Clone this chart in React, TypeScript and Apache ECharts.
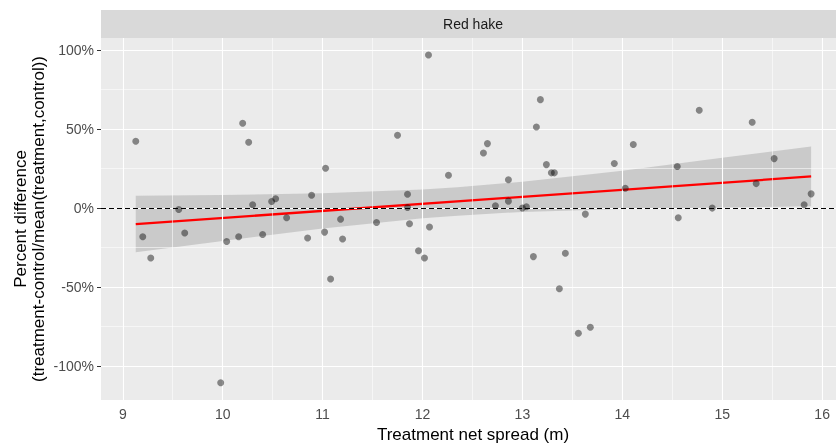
import React, { useEffect, useRef } from "react";
import * as echarts from "echarts";

const xValues = [
  9.13, 9.2, 9.28, 9.56, 9.62, 9.98, 10.04, 10.16, 10.2, 10.26, 10.3, 10.4, 10.49, 10.53, 10.64,
  10.85, 10.89, 11.02, 11.03, 11.08, 11.18, 11.2, 11.54, 11.75, 11.85, 11.85, 11.87, 11.96, 12.02,
  12.06, 12.07, 12.26, 12.61, 12.65, 12.73, 12.86, 12.86, 13.0, 13.04, 13.11, 13.14, 13.18, 13.24,
  13.29, 13.32, 13.37, 13.43, 13.56, 13.63, 13.68, 13.92, 14.03, 14.11, 14.55, 14.56, 14.77, 14.9,
  15.3, 15.34, 15.52, 15.82, 15.89,
];
const yValues = [
  42.3, -18.1, -31.6, -0.9, -15.8, -110.5, -21.1, -18.1, 53.7, 41.7, 2.1, -16.7, 4.2, 5.9, -6.1,
  -18.9, 8.1, -15.2, 25.2, -44.8, -7.0, -19.6, -9.1, 46.1, 8.8, 0.4, -9.9, -27.0, -31.6,
  96.8, -12.0, 20.8, 34.9, 40.8, 1.5, 17.9, 4.4, 0.0, 0.8, -30.7, 51.3, 68.6, 27.5,
  22.3, 22.3, -51.0, -28.6, -79.2, -3.8, -75.4, 28.2, 12.6, 40.2, 26.3, -6.1, 61.9, 0.0,
  54.3, 15.5, 31.3, 2.1, 9.0,
];

const bandX = [9.13, 10, 11, 12, 12.35, 13, 14, 15, 15.89];
const bandUpper = [7.8, 8.3, 9.4, 11.8, 13.2, 16.7, 23.6, 31.8, 38.9];
const bandLower = [-28.0, -20.8, -12.9, -6.5, -4.8, -2.4, -0.5, 0.3, 1.1];

const fitX = [9.13, 15.89];
const fitY = [-10.1, 20.0];

const xTicks = [9, 10, 11, 12, 13, 14, 15, 16];
const xMinor = [9.5, 10.5, 11.5, 12.5, 13.5, 14.5, 15.5];
const yTicks = [-100, -50, 0, 50, 100];
const yMinor = [-75, -25, 25, 75];

const stripTitle = "Red hake";
const xTitle = "Treatment net spread (m)";
const yTitle = "Percent difference\n(treatment-control/mean(treatment,control))";

const FONT = "'Liberation Sans', Arial, sans-serif";

export default function App() {
  const ref = useRef<HTMLDivElement>(null);
  useEffect(() => {
    if (!ref.current) return;
    const chart = echarts.init(ref.current, null, { renderer: "svg" });
    const gridLines: any[] = [];
    xTicks.forEach((v) => gridLines.push({ xAxis: v, lineStyle: { color: "#ffffff", width: 1.1, type: "solid" } }));
    xMinor.forEach((v) => gridLines.push({ xAxis: v, lineStyle: { color: "#ffffff", width: 0.55, type: "solid" } }));
    yTicks.forEach((v) => gridLines.push({ yAxis: v, lineStyle: { color: "#ffffff", width: 1.1, type: "solid" } }));
    yMinor.forEach((v) => gridLines.push({ yAxis: v, lineStyle: { color: "#ffffff", width: 0.55, type: "solid" } }));

    const option: any = {
      animation: false,
      textStyle: { fontFamily: FONT },
      grid: {
        left: 101,
        right: 5,
        top: 38,
        bottom: 44,
        show: true,
        backgroundColor: "#EBEBEB",
        borderWidth: 0,
      },
      xAxis: {
        type: "value",
        min: 8.782,
        max: 16.229,
        splitLine: { show: false },
        axisLine: { show: false },
        axisTick: { show: true, length: 4, lineStyle: { color: "#333333", width: 1 }, customValues: xTicks },
        axisLabel: { customValues: xTicks, color: "#4D4D4D", fontSize: 14, margin: 7, fontFamily: FONT },
      },
      yAxis: {
        type: "value",
        min: -121.4,
        max: 107.6,
        splitLine: { show: false },
        axisLine: { show: false },
        axisTick: { show: true, length: 4, lineStyle: { color: "#333333", width: 1 }, customValues: yTicks },
        axisLabel: {
          customValues: yTicks,
          color: "#4D4D4D",
          fontSize: 14,
          margin: 7,
          fontFamily: FONT,
          formatter: (v: number) => `${v}%`,
        },
      },
      graphic: [
        { type: "rect", shape: { x: 101, y: 10, width: 744, height: 28 }, style: { fill: "#D9D9D9" }, silent: true },
        {
          type: "text",
          x: 473,
          y: 24,
          style: { text: stripTitle, align: "center", verticalAlign: "middle", fill: "#1A1A1A", font: `14px ${FONT}` },
        },
        {
          type: "text",
          x: 473,
          y: 434,
          style: { text: xTitle, align: "center", verticalAlign: "middle", fill: "#000000", font: `17px ${FONT}` },
        },
        {
          type: "text",
          x: 29,
          y: 219,
          rotation: Math.PI / 2,
          style: {
            text: yTitle,
            align: "center",
            verticalAlign: "middle",
            fill: "#000000",
            font: `17px ${FONT}`,
            lineHeight: 18,
          },
        },
      ],
      series: [
        {
          name: "grid",
          type: "line",
          data: [],
          z: 1,
          silent: true,
          markLine: { silent: true, symbol: "none", label: { show: false }, animation: false, data: gridLines },
        },
        {
          name: "band",
          type: "custom",
          z: 2,
          silent: true,
          data: [[12, 0]],
          renderItem: (_params: any, api: any) => {
            const pts: number[][] = [];
            bandX.forEach((x, i) => pts.push(api.coord([x, bandUpper[i]])));
            for (let i = bandX.length - 1; i >= 0; i--) pts.push(api.coord([bandX[i], bandLower[i]]));
            return { type: "polygon", shape: { points: pts, smooth: 0 }, style: { fill: "rgba(153,153,153,0.4)" } };
          },
        },
        {
          name: "zero",
          type: "line",
          data: [],
          z: 3,
          silent: true,
          markLine: {
            silent: true,
            symbol: "none",
            label: { show: false },
            data: [{ yAxis: 0, lineStyle: { color: "#000000", width: 1, type: [5, 3] } }],
          },
        },
        {
          name: "fit",
          type: "line",
          z: 4,
          symbol: "none",
          data: fitX.map((x, i) => [x, fitY[i]]),
          lineStyle: { color: "#FF0000", width: 2.3 },
        },
        {
          name: "points",
          type: "scatter",
          z: 5,
          symbolSize: 7,
          data: xValues.map((x, i) => [x, yValues[i]]),
          itemStyle: { color: "rgba(0,0,0,0.55)" },
        },
      ],
    };
    chart.setOption(option);
    return () => chart.dispose();
  }, []);
  return (
    <div style={{ position: "fixed", left: 0, top: 0, width: 836, height: 444, overflow: "hidden" }}>
      <div ref={ref} style={{ width: 850, height: 444 }} />
    </div>
  );
}
